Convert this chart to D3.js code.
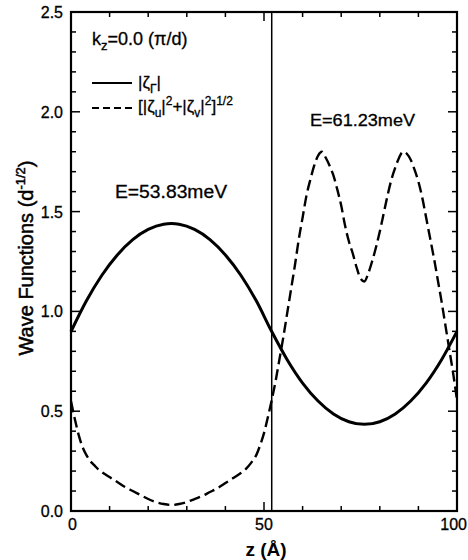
<!DOCTYPE html>
<html>
<head>
<meta charset="utf-8">
<script src="https://cdn.jsdelivr.net/npm/d3@7/dist/d3.min.js"></script>
<style>
  html, body { margin: 0; padding: 0; background: #fff; }
  svg { display: block; }
  text { font-family: "Liberation Sans", Arial, Helvetica, sans-serif; fill: #000; }
</style>
</head>
<body>
<div id="chart"></div>
<script>
// ---------------- data ----------------
const zGamma = [0, 4, 8, 12, 16, 20, 24, 26, 28, 32, 36, 40, 44, 48, 52,
                56, 60, 64, 68, 72, 76, 80, 84, 88, 92, 96, 100];
const zetaGamma = [0.899, 1.053, 1.181, 1.283, 1.360, 1.411, 1.437, 1.440, 1.437, 1.411, 1.360, 1.283, 1.181, 1.053, 0.899,
                   0.758, 0.641, 0.551, 0.486, 0.447, 0.434, 0.447, 0.486, 0.551, 0.641, 0.758, 0.900];

const zUV = [0, 1, 2, 3, 4, 5, 6, 7, 8, 10, 12, 14, 16, 18, 20, 22, 24, 26, 28, 30, 32, 34, 36, 38, 40, 42, 44, 45, 46, 47, 48, 49, 50, 51, 52,
             53, 54, 55, 56, 57, 58, 59, 60, 61, 62, 63, 64, 65, 66, 67, 68, 69, 70, 71, 72, 73, 74, 75, 76, 77, 78, 79, 80,
             81, 82, 83, 84, 85, 86, 87, 88, 89, 90, 91, 92, 93, 94, 95, 96, 97, 98, 99, 100];
const zetaUV = [0.55, 0.46, 0.38, 0.32, 0.28, 0.25, 0.23, 0.21, 0.195, 0.17, 0.145, 0.12, 0.10, 0.08, 0.06, 0.045, 0.035, 0.03, 0.035, 0.045, 0.06, 0.075, 0.095, 0.115, 0.14, 0.165, 0.19, 0.205, 0.225, 0.25, 0.28, 0.33, 0.39, 0.47, 0.555,
                0.65, 0.76, 0.87, 0.99, 1.11, 1.23, 1.36, 1.47, 1.58, 1.66, 1.73, 1.78, 1.80, 1.77, 1.73, 1.68, 1.61, 1.53, 1.43, 1.35, 1.29, 1.22, 1.165, 1.15, 1.19, 1.25, 1.32, 1.40,
                1.49, 1.58, 1.66, 1.72, 1.77, 1.80, 1.79, 1.76, 1.71, 1.65, 1.57, 1.47, 1.37, 1.27, 1.16, 1.05, 0.93, 0.81, 0.69, 0.556];

const interfaceZ = 52;
const xTickLabels = [0, 50, 100];
const xMinorTicks = [0, 10, 20, 30, 40, 50, 60, 70, 80, 90, 100];
const yTickLabels = [0.0, 0.5, 1.0, 1.5, 2.0, 2.5];
const yMinorTicks = d3.range(0, 26).map(i => i / 10);

const xTitle = "z (Å)";
const yTitle = "Wave Functions (d";
const energyLeft = "E=53.83meV";
const energyRight = "E=61.23meV";

// ---------------- layout ----------------
const W = 468, H = 560;
const svg = d3.select("#chart").append("svg").attr("width", W).attr("height", H);
const x = d3.scaleLinear().domain([0, 100]).range([71, 457]);
const y = d3.scaleLinear().domain([0, 2.5]).range([511, 12]);

const g = svg.append("g");

// frame
g.append("rect")
  .attr("x", x(0)).attr("y", y(2.5))
  .attr("width", x(100) - x(0)).attr("height", y(0) - y(2.5))
  .attr("fill", "none").attr("stroke", "#000").attr("stroke-width", 2.2);

// ticks (inward on all four sides)
const tickG = g.append("g").attr("stroke", "#000").attr("stroke-width", 1.5);
yMinorTicks.forEach(v => {
  const major = Math.abs(v * 2 - Math.round(v * 2)) < 1e-6;
  const len = major ? 9 : 5;
  tickG.append("line").attr("x1", x(0)).attr("x2", x(0) + len).attr("y1", y(v)).attr("y2", y(v));
  tickG.append("line").attr("x1", x(100)).attr("x2", x(100) - len).attr("y1", y(v)).attr("y2", y(v));
});
xMinorTicks.forEach(v => {
  const major = v % 50 === 0;
  const len = major ? 9 : 5;
  tickG.append("line").attr("x1", x(v)).attr("x2", x(v)).attr("y1", y(0)).attr("y2", y(0) - len);
  tickG.append("line").attr("x1", x(v)).attr("x2", x(v)).attr("y1", y(2.5)).attr("y2", y(2.5) + len);
});

// tick labels
g.selectAll(".ylab").data(yTickLabels).join("text")
  .attr("x", 63).attr("y", d => y(d) + 6)
  .attr("text-anchor", "end").attr("font-size", 16)
  .attr("stroke", "#000").attr("stroke-width", 0.3)
  .text(d => d.toFixed(1));
g.selectAll(".xlab").data(xTickLabels).join("text")
  .attr("x", d => d === 100 ? W - 1 : x(d) + (d === 0 ? 1.5 : 0)).attr("y", 530)
  .attr("text-anchor", d => d === 100 ? "end" : "middle").attr("font-size", 16)
  .attr("stroke", "#000").attr("stroke-width", 0.3)
  .text(d => d);

// axis titles
g.append("text").attr("x", 266).attr("y", 556).attr("text-anchor", "middle")
  .attr("font-size", 19).attr("font-weight", "bold").text(xTitle);

const yt = g.append("text")
  .attr("transform", "translate(33,258) rotate(-90)")
  .attr("text-anchor", "middle").attr("font-size", 20)
  .attr("stroke", "#000").attr("stroke-width", 0.5);
yt.append("tspan").text(yTitle);
yt.append("tspan").attr("font-size", 13).attr("dy", -8).text("-1/2");
yt.append("tspan").attr("dy", 8).text(")");

// interface line
g.append("line").attr("x1", x(interfaceZ)).attr("x2", x(interfaceZ))
  .attr("y1", y(2.5)).attr("y2", y(0)).attr("stroke", "#000").attr("stroke-width", 1.5);

// curves
const line = d3.line().x(d => x(d[0])).y(d => y(d[1])).curve(d3.curveMonotoneX);
g.append("path").attr("d", line(zGamma.map((z, i) => [z, zetaGamma[i]])))
  .attr("fill", "none").attr("stroke", "#000").attr("stroke-width", 3);
g.append("path").attr("d", line(zUV.map((z, i) => [z, zetaUV[i]])))
  .attr("fill", "none").attr("stroke", "#000").attr("stroke-width", 2.4)
  .attr("stroke-dasharray", "11,5");

// annotations
const kz = g.append("text").attr("x", 92).attr("y", 45).attr("font-size", 18)
  .attr("stroke", "#000").attr("stroke-width", 0.3);
kz.append("tspan").text("k");
kz.append("tspan").attr("font-size", 13).attr("dy", 5).text("z");
kz.append("tspan").attr("dy", -5).text("=0.0 (π/d)");

// legend
g.append("line").attr("x1", 92).attr("x2", 132).attr("y1", 83).attr("y2", 83)
  .attr("stroke", "#000").attr("stroke-width", 2);
g.append("line").attr("x1", 92).attr("x2", 132).attr("y1", 108).attr("y2", 108)
  .attr("stroke", "#000").attr("stroke-width", 2).attr("stroke-dasharray", "7,4");

const l1 = g.append("text").attr("x", 138).attr("y", 88).attr("font-size", 17)
  .attr("stroke", "#000").attr("stroke-width", 0.3);
l1.append("tspan").text("|ζ");
l1.append("tspan").attr("font-size", 12).attr("dy", 5).text("Γ");
l1.append("tspan").attr("dy", -5).text("|");

const l2 = g.append("text").attr("x", 138).attr("y", 112).attr("font-size", 17)
  .attr("stroke", "#000").attr("stroke-width", 0.3);
l2.append("tspan").text("[|ζ");
l2.append("tspan").attr("font-size", 12).attr("dy", 5).text("u");
l2.append("tspan").attr("dy", -5).text("|");
l2.append("tspan").attr("font-size", 12).attr("dy", -7).text("2");
l2.append("tspan").attr("dy", 7).text("+|ζ");
l2.append("tspan").attr("font-size", 12).attr("dy", 5).text("v");
l2.append("tspan").attr("dy", -5).text("|");
l2.append("tspan").attr("font-size", 12).attr("dy", -7).text("2");
l2.append("tspan").attr("dy", 7).text("]");
l2.append("tspan").attr("font-size", 12).attr("dy", -7).text("1/2");

g.append("text").attr("x", 115).attr("y", 198).attr("font-size", 18)
  .attr("textLength", 112).attr("lengthAdjust", "spacingAndGlyphs")
  .attr("stroke", "#000").attr("stroke-width", 0.3).text(energyLeft);
g.append("text").attr("x", 310).attr("y", 126).attr("font-size", 17)
  .attr("textLength", 105).attr("lengthAdjust", "spacingAndGlyphs")
  .attr("stroke", "#000").attr("stroke-width", 0.3).text(energyRight);
</script>
</body>
</html>
